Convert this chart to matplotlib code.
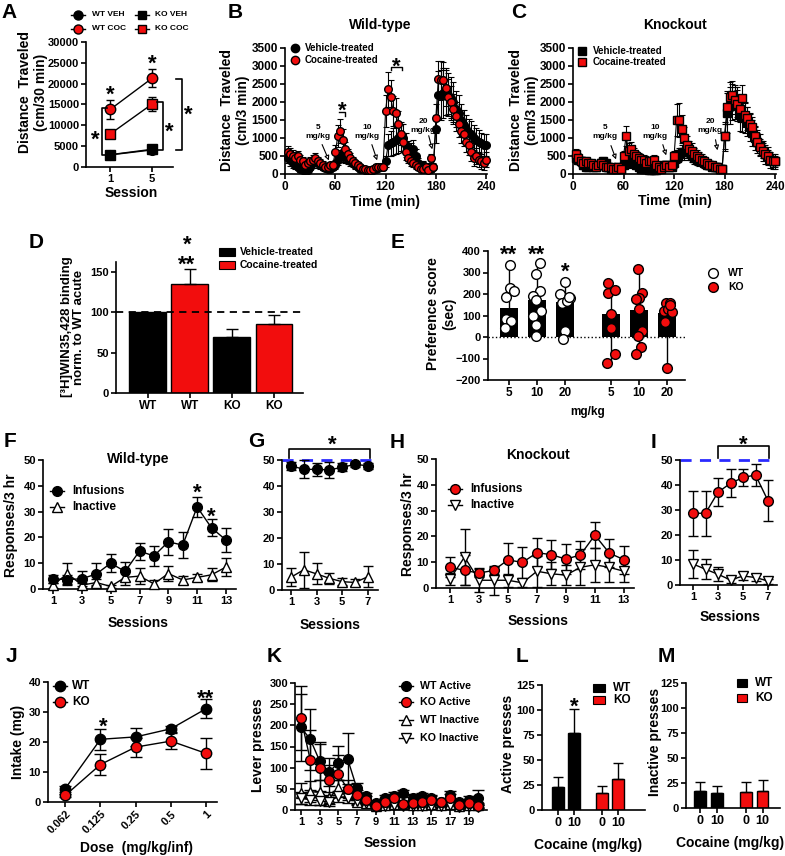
import numpy as np
import matplotlib
matplotlib.use('Agg')
import matplotlib.pyplot as plt
from matplotlib.lines import Line2D
from matplotlib.patches import Rectangle, FancyArrowPatch

# ======================= DATA =======================
# A
a_session = [1, 5]
a_wt_veh = [2900, 4100]; a_wt_veh_err = [300, 400]
a_ko_veh = [2950, 4250]; a_ko_veh_err = [300, 400]
a_wt_coc = [13800, 21300]; a_wt_coc_err = [2200, 2100]
a_ko_coc = [7900, 15100]; a_ko_coc_err = [600, 1750]

# B / C  (3-min bins)
bc_time = list(range(3, 241, 3))
b_veh = [450, 380, 300, 250, 200, 150, 120, 100, 120, 200, 300, 350, 300, 250, 200, 180, 150, 150, 200,
         250, 400, 500, 520, 480, 420, 350, 300, 250, 200, 150, 150, 120, 100, 100, 120, 150, 180, 200, 200,
         350, 800, 850, 900, 950, 1000, 1050, 1000, 800, 650, 600, 700, 500, 300, 200, 250, 150, 200, 150, 200,
         1250, 2200, 2200, 2250, 2300, 2200, 2100, 2000, 1800, 1700, 1500, 1350, 1250, 1150, 1100, 1000, 950, 900, 850, 800, 800]
b_veh_err = [150, 150, 130, 120, 100, 100, 90, 80, 90, 100, 120, 130, 120, 110, 100, 90, 80, 80, 90,
             100, 150, 180, 180, 170, 150, 130, 110, 100, 90, 80, 80, 70, 60, 60, 70, 80, 90, 90, 90,
             150, 300, 350, 380, 400, 420, 400, 380, 330, 280, 250, 250, 200, 150, 120, 120, 100, 100, 100, 100,
             400, 650, 700, 700, 650, 600, 600, 550, 500, 500, 450, 420, 400, 380, 360, 350, 330, 320, 300, 300, 300]
b_coc = [600, 550, 500, 450, 500, 400, 350, 250, 300, 350, 400, 450, 350, 300, 250, 200, 200, 250, 250,
         600, 1050, 1200, 950, 700, 550, 450, 350, 300, 250, 200, 150, 150, 100, 100, 150, 200, 200, 200, 200,
         1750, 2350, 2150, 1750, 1700, 1400, 1100, 900, 600, 450, 350, 300, 250, 200, 150, 150, 200, 100, 450, 200,
         1550, 2650, 2600, 2600, 2400, 2150, 2000, 1800, 1600, 1400, 1200, 1100, 900, 800, 600, 450, 500, 400, 350, 300, 400]
b_coc_err = [180, 170, 160, 150, 150, 140, 130, 110, 110, 120, 130, 140, 130, 120, 100, 90, 80, 80, 90,
             200, 300, 330, 300, 200, 150, 130, 110, 100, 90, 80, 70, 70, 60, 60, 70, 80, 80, 80, 80,
             450, 480, 450, 420, 400, 350, 300, 250, 200, 150, 120, 110, 100, 90, 80, 80, 80, 70, 100, 80,
             400, 500, 550, 520, 500, 480, 450, 420, 400, 380, 350, 330, 300, 280, 250, 230, 220, 200, 200, 200, 200]
c_veh = [450, 400, 350, 250, 200, 200, 250, 200, 200, 250, 300, 350, 300, 200, 150, 150, 150, 200, 150,
         250, 350, 400, 300, 300, 250, 200, 150, 150, 150, 100, 100, 100, 100, 150, 200, 250, 250, 200, 200,
         300, 450, 550, 600, 600, 650, 600, 500, 450, 400, 350, 350, 300, 250, 250, 200, 200, 200, 150, 150,
         1050, 1700, 1900, 2000, 2000, 1950, 1650, 1600, 1550, 1450, 1300, 1150, 1000, 900, 800, 650, 550, 500, 400, 350, 350]
c_veh_err = [150, 130, 120, 100, 90, 90, 90, 90, 90, 100, 110, 120, 110, 90, 80, 80, 80, 80, 80,
             100, 120, 140, 120, 110, 100, 90, 80, 80, 80, 70, 70, 70, 70, 80, 90, 100, 100, 90, 90,
             120, 150, 180, 200, 200, 210, 200, 180, 160, 150, 140, 130, 120, 110, 100, 100, 90, 90, 90, 90,
             400, 550, 520, 500, 480, 470, 450, 430, 420, 400, 380, 360, 340, 320, 300, 280, 260, 240, 220, 200, 200]
c_coc = [550, 450, 350, 300, 350, 300, 300, 250, 200, 250, 300, 250, 200, 200, 200, 150, 150, 200, 150,
         500, 1050, 650, 700, 550, 500, 450, 400, 400, 300, 350, 350, 400, 250, 200, 150, 200, 250, 200, 250,
         500, 1500, 1500, 1250, 1000, 800, 700, 650, 550, 500, 450, 400, 350, 300, 250, 250, 200, 200, 150, 150,
         1050, 1850, 2150, 2200, 2050, 1950, 1800, 2100, 1650, 1550, 1400, 1300, 1050, 900, 750, 650, 550, 500, 400, 350, 350]
c_coc_err = [150, 130, 120, 110, 110, 100, 100, 90, 90, 90, 100, 90, 80, 80, 80, 70, 70, 80, 70,
             150, 280, 200, 200, 160, 150, 140, 130, 120, 110, 110, 110, 120, 90, 80, 70, 80, 90, 80, 90,
             150, 450, 480, 400, 300, 250, 220, 200, 180, 170, 160, 150, 130, 120, 110, 100, 90, 90, 80, 80,
             350, 450, 400, 380, 380, 370, 360, 380, 340, 320, 300, 280, 260, 240, 220, 200, 180, 160, 150, 150, 150]

# D
d_labels = ['WT', 'WT', 'KO', 'KO']
d_values = [100, 135, 69, 85]
d_err = [0, 18, 10, 11]
d_is_coc = [False, True, False, True]

# E
e_labels = ['5', '10', '20', '5', '10', '20']
e_bar = [133, 170, 165, 105, 125, 112]
e_points = [[334, 187, 226, 216, 82, 74, 40],
            [345, 294, 213, 190, 170, 120, 97, 56, 5],
            [257, 201, 182, 159, 167, 185, 28, -11],
            [252, 206, 217, 108, 40, -80, -119],
            [314, 206, 182, 175, 128, 28, 5, -46, -77],
            [159, 159, 121, 128, 116, 71, -142, 150]]
e_is_ko = [False, False, False, True, True, True]

# F (WT acquisition)
f_sess = list(range(1, 14))
f_inf = [4, 3.6, 4, 5.8, 10, 6.8, 14.7, 12.8, 18.3, 17, 31.8, 23.7, 19]
f_inf_err = [1.5, 2, 3, 4.3, 3.6, 3.8, 3.3, 3.7, 5, 5, 3.8, 3.3, 4.5]
f_inact = [1.5, 6, 1.5, 2.5, 1, 4.5, 5, 2, 6, 3.5, 4.5, 5.5, 8.5]
f_inact_err = [1, 4, 1, 1.5, 0.5, 3, 3, 1.5, 3, 1.5, 1.5, 2.5, 3.5]

# G (WT FR)
g_sess = list(range(1, 8))
g_inf = [47.8, 46.4, 46.4, 46.2, 47.2, 48.3, 47.8]
g_inf_err = [1.5, 3.5, 2.5, 3, 1.5, 1, 1.2]
g_inact = [4.9, 7.8, 6.2, 4.5, 3.2, 2.9, 5.1]
g_inact_err = [3.4, 7, 4, 2, 1.4, 1.5, 4]

# H (KO acquisition)
h_sess = list(range(1, 14))
h_inf = [8.1, 6.8, 5.8, 6.8, 10.9, 9.9, 13.7, 12.9, 11.2, 12.8, 20.5, 13.5, 11]
h_inf_err = [3.8, 5.8, 1.5, 1.5, 6.4, 6, 5.7, 5.7, 5.8, 5.5, 5.1, 5.3, 5.4]
h_inact = [3.5, 12, 3, 3, 3, 2, 6.5, 5.5, 5, 8, 9, 8, 6.5]
h_inact_err = [2.5, 11, 4.7, 5.7, 2.5, 1.5, 6, 4.5, 4, 7, 6.5, 5.5, 4]

# I (KO FR)
i_sess = list(range(1, 8))
i_inf = [28.7, 28.7, 37.1, 40.7, 43, 44, 33.7]
i_inf_err = [9, 9, 5.5, 5.7, 3.4, 4.5, 8.1]
i_inact = [8.4, 6.3, 4.3, 2, 3.6, 3, 1.6]
i_inact_err = [5.6, 4, 2.8, 1, 1.5, 1.5, 1]

# J
j_dose = ['0.062', '0.125', '0.25', '0.5', '1']
j_wt = [4.5, 20.9, 21.7, 24.4, 31.1]
j_wt_err = [1, 3.5, 3, 1, 3.2]
j_ko = [2.2, 12.5, 18.3, 20.3, 16.2]
j_ko_err = [0.5, 3.6, 3.2, 2.6, 5.3]

# K
k_sess = list(range(1, 21))
k_wt_act = [195, 167, 116, 89, 112, 121, 51, 32, 16, 28, 32, 39, 29, 32, 28, 20, 36, 20, 24, 29]
k_wt_act_err = [80, 72, 45, 33, 40, 60, 12, 8, 5, 8, 10, 8, 8, 8, 8, 6, 8, 6, 8, 18]
k_ko_act = [217, 118, 100, 71, 84, 50, 36, 24, 10, 20, 28, 13, 16, 20, 24, 18, 29, 12, 16, 9]
k_ko_act_err = [76, 70, 55, 35, 45, 20, 12, 8, 5, 8, 10, 5, 8, 8, 8, 6, 8, 5, 6, 5]
k_wt_inact = [39, 43, 42, 28, 51, 39, 20, 17, 10, 12, 15, 15, 12, 12, 13, 12, 15, 10, 12, 12]
k_wt_inact_err = [25, 25, 30, 15, 20, 15, 8, 6, 5, 5, 5, 5, 5, 5, 5, 5, 5, 5, 5, 5]
k_ko_inact = [28, 24, 21, 20, 32, 29, 21, 16, 8, 10, 12, 10, 9, 10, 10, 9, 11, 8, 9, 8]
k_ko_inact_err = [15, 12, 10, 10, 12, 12, 8, 5, 4, 4, 4, 4, 4, 4, 4, 4, 4, 4, 4, 4]

# L / M
lm_cocaine = ['0', '10', '0', '10']
l_active = [22.7, 76.7, 16.7, 31]
l_active_err = [10.7, 24, 7.7, 15.7]
m_inactive = [17.3, 15, 16, 16.7]
m_inactive_err = [8.7, 6.7, 9.7, 11]
lm_is_ko = [False, False, True, True]

# ======================= STYLE =======================
plt.rcParams['font.family'] = ['Liberation Sans', 'DejaVu Sans']
plt.rcParams['font.weight'] = 'bold'
plt.rcParams['axes.labelweight'] = 'bold'
plt.rcParams['axes.linewidth'] = 1.2

RED = '#f20d0d'
BLUE = '#2a2aff'
W, H = 785, 856
fig = plt.figure(figsize=(W / 100, H / 100), dpi=100)


def make_ax(x0, yt, x1, yb, tsize=8):
    ax = fig.add_axes([x0 / W, 1 - yb / H, (x1 - x0) / W, (yb - yt) / H])
    for s in ('top', 'right'):
        ax.spines[s].set_visible(False)
    ax.patch.set_alpha(0)
    ax.tick_params(direction='out', length=3.5, width=1.2, labelsize=tsize, pad=1.5)
    return ax


def T(x, y, s, **kw):
    kw.setdefault('fontweight', 'bold')
    fig.text(x / W, 1 - y / H, s, **kw)


def Lpx(xs, ys, **kw):
    kw.setdefault('color', 'black')
    kw.setdefault('lw', 1.2)
    fig.add_artist(Line2D([x / W for x in xs], [1 - y / H for y in ys], transform=fig.transFigure, **kw))


def star(x, y, s='*', size=16, ls=1.1):
    # (x, y) = pixel centre of the (last line) asterisk ink
    em = size * 100 / 72
    T(x, y + 0.58 * em, s, ha='center', va='baseline', fontsize=size, linespacing=ls,
      multialignment='center')


def letter(x, y, s):
    T(x, y, s, ha='center', va='baseline', fontsize=15)


def ylab(x, y, s, size=10, ls=1.15):
    T(x, y, s, rotation=90, ha='center', va='center', multialignment='center', fontsize=size, linespacing=ls)


def xlab(x, y, s, size=10):
    T(x, y, s, ha='center', va='center', fontsize=size)


def leg_marker(x, y, marker, fc, ms, line=False, llen=7):
    if line:
        Lpx([x - llen, x + llen], [y, y], lw=1)
    fig.add_artist(Line2D([x / W], [1 - y / H], transform=fig.transFigure, marker=marker, ms=ms,
                          mfc=fc, mec='black', mew=1, ls='none'))


def leg_patch(x0, y0, x1, y1, fc):
    fig.add_artist(Rectangle((x0 / W, 1 - y1 / H), (x1 - x0) / W, (y1 - y0) / H,
                             transform=fig.transFigure, fc=fc, ec='black', lw=0.8))


def eb(ax, x, y, err, up_only=False, cap=3, lw=1.0, z=2):
    err = np.asarray(err, dtype=float)
    yerr = [np.zeros_like(err), err] if up_only else err
    c = ax.errorbar(x, y, yerr=yerr, fmt='none', ecolor='black', elinewidth=lw, capsize=cap,
                    capthick=lw, zorder=z)
    for ch in c.get_children():
        ch.set_clip_on(False)


def pts(ax, x, y, marker, fc, ms, line=True, z=3, lw=1.0):
    ax.plot(x, y, color='black', lw=lw if line else 0, marker=marker, ms=ms, mfc=fc,
            mec='black', mew=1.0, zorder=z, clip_on=False)


# ======================= A =======================
ax = make_ax(86, 42, 173, 167)
eb(ax, a_session, a_wt_veh, a_wt_veh_err)
pts(ax, a_session, a_wt_veh, 'o', 'black', 7)
eb(ax, a_session, a_ko_veh, a_ko_veh_err)
pts(ax, a_session, a_ko_veh, 's', 'black', 6.5)
eb(ax, a_session, a_wt_coc, a_wt_coc_err)
pts(ax, a_session, a_wt_coc, 'o', RED, 7.5)
eb(ax, a_session, a_ko_coc, a_ko_coc_err)
pts(ax, a_session, a_ko_coc, 's', RED, 6.5)
ax.set_xlim(-1.3, 7.0); ax.set_ylim(0, 30000)
ax.set_xticks(a_session); ax.set_yticks(range(0, 30001, 5000))
letter(9, 18, 'A')
ylab(33, 92, 'Distance  Traveled\n(cm/30 min)')
xlab(131, 193, 'Session')
leg_marker(78, 15, 'o', 'black', 6.5, line=True); T(92, 15, 'WT VEH', va='center', fontsize=6)
leg_marker(142, 15, 's', 'black', 6, line=True); T(155, 15, 'KO VEH', va='center', fontsize=6)
leg_marker(78, 29, 'o', RED, 6.5, line=True); T(92, 29, 'WT COC', va='center', fontsize=6)
leg_marker(142, 29, 's', RED, 6, line=True); T(155, 29, 'KO COC', va='center', fontsize=6)
star(110, 88); star(152, 57)
Lpx([107, 102, 102, 107], [108, 108, 155, 155]); star(95, 133)
Lpx([157, 163, 163, 157], [102, 102, 150, 150]); star(169, 125)
Lpx([176, 182, 182, 176], [79, 79, 150, 150]); star(188, 108)

# ======================= B / C =======================
def timecourse(ax, veh, veh_err, coc, coc_err, marker):
    eb(ax, bc_time, veh, veh_err, cap=2, lw=0.8)
    eb(ax, bc_time, coc, coc_err, cap=2, lw=0.8)
    pts(ax, bc_time, veh, marker, 'black', 5.5, lw=0.8, z=3)
    pts(ax, bc_time, coc, marker, RED, 5.5, lw=0.8, z=4)
    ax.set_xlim(0, 241); ax.set_ylim(0, 3500)
    ax.set_xticks(range(0, 241, 60)); ax.set_yticks(range(0, 3501, 500))


axB = make_ax(285, 48, 487, 174, tsize=8.5)
timecourse(axB, b_veh, b_veh_err, b_coc, b_coc_err, 'o')
axC = make_ax(573, 48, 776, 174, tsize=8.5)
timecourse(axC, c_veh, c_veh_err, c_coc, c_coc_err, 's')
letter(235, 18, 'B'); letter(519, 18, 'C')
T(380, 25, 'Wild-type', ha='center', va='center', fontsize=10)
T(675, 25, 'Knockout', ha='center', va='center', fontsize=10)
ylab(235, 110, 'Distance  Traveled\n(cm/3 min)')
ylab(524, 110, 'Distance  Traveled\n(cm/3 min)')
xlab(385, 202, 'Time (min)'); xlab(675, 201, 'Time  (min)')
leg_marker(295, 48, 'o', 'black', 6); T(305, 48, 'Vehicle-treated', va='center', fontsize=7)
leg_marker(295, 60, 'o', RED, 6); T(305, 60, 'Cocaine-treated', va='center', fontsize=7)
leg_marker(582, 51, 's', 'black', 6); T(593, 51, 'Vehicle-treated', va='center', fontsize=7)
leg_marker(582, 62, 's', RED, 6); T(593, 62, 'Cocaine-treated', va='center', fontsize=7)


def dose_arrow(tx, ty, s, a0, a1):
    T(tx, ty, s, ha='center', va='center', fontsize=6, linespacing=1.3)
    fig.add_artist(FancyArrowPatch((a0[0] / W, 1 - a0[1] / H), (a1[0] / W, 1 - a1[1] / H),
                                   transform=fig.transFigure, arrowstyle='-|>', mutation_scale=7,
                                   lw=0.8, fc='white', ec='black'))


dose_arrow(318, 132, '5\nmg/kg', (321, 142), (330, 163))
dose_arrow(367, 132, '10\nmg/kg', (371, 142), (378, 163))
dose_arrow(423, 126, '20\nmg/kg', (428, 133), (433, 152))
dose_arrow(605, 132, '5\nmg/kg', (610, 143), (617, 162))
dose_arrow(655, 132, '10\nmg/kg', (662, 142), (667, 158))
dose_arrow(710, 126, '20\nmg/kg', (715, 137), (718, 153))
star(342, 104); Lpx([339, 345, 345], [112, 112, 116], lw=1)
star(396, 60); Lpx([391, 391, 402, 402], [70, 67, 67, 70], lw=1)

# ======================= D =======================
ax = make_ax(116, 262, 303, 393)
dx = np.arange(len(d_values))
ax.bar(dx, d_values, width=0.88, color=[RED if c else 'black' for c in d_is_coc],
       edgecolor='black', lw=1, zorder=2)
eb(ax, dx[1:], d_values[1:], d_err[1:], up_only=True, cap=4)
ax.axhline(100, ls=(0, (4, 3)), color='black', lw=1.3, zorder=3)
ax.set_xlim(-0.76, 3.69); ax.set_ylim(0, 162)
ax.set_xticks(dx); ax.set_xticklabels(d_labels, fontsize=8.5); ax.set_yticks([0, 50, 100, 150])
letter(36, 248, 'D')
ylab(73, 327, '[³H]WIN35,428 binding\nnorm. to WT acute', size=9.5, ls=1.1)
star(187, 258, '*\n**', ls=0.95)
leg_patch(219, 248, 235, 256, 'black'); T(240, 252, 'Vehicle-treated', va='center', fontsize=7.5)
leg_patch(219, 261, 235, 269, RED); T(240, 265, 'Cocaine-treated', va='center', fontsize=7.5)

# ======================= E =======================
ax = make_ax(488, 251, 685, 380)
ex = [0, 1, 2, 3.65, 4.65, 5.65]
e_offsets = [[0.02, -0.12, 0.02, 0.18, -0.1, 0.08, -0.15],
             [0.12, -0.02, 0.12, -0.14, -0.02, 0.15, -0.14, -0.02, -0.02],
             [0.0, -0.18, 0.18, -0.12, 0.06, 0.14, 0.0, -0.06],
             [-0.12, -0.12, 0.15, 0.0, 0.0, 0.15, -0.14],
             [-0.05, 0.1, 0.0, -0.12, 0.0, 0.1, -0.05, 0.07, -0.1],
             [-0.05, 0.1, -0.1, 0.02, 0.18, -0.08, 0.0, 0.12]]
for xi, vals in zip(ex, e_points):
    ax.plot([xi, xi], [min(vals), max(vals)], color='black', lw=1, zorder=1)
ax.bar(ex, e_bar, width=0.67, color='black', zorder=2)
ax.axhline(0, ls=':', color='black', lw=1, zorder=2.5)
for xi, vals, offs, ko in zip(ex, e_points, e_offsets, e_is_ko):
    ax.plot([xi + o for o in offs], vals, 'o', ms=7, mfc=RED if ko else 'white', mec='black',
            mew=1, zorder=3, clip_on=False)
ax.set_xlim(-0.75, 6.29); ax.set_ylim(-200, 400)
ax.set_xticks(ex); ax.set_xticklabels(e_labels, fontsize=8.5); ax.set_yticks(range(-200, 401, 100))
letter(398, 248, 'E')
ylab(441, 314, 'Preference score\n(sec)', ls=1.25)
xlab(588, 412, 'mg/kg', size=8.5)
star(509, 248, '**'); star(537, 248, '**'); star(565, 265)
leg_marker(713, 273, 'o', 'white', 7); T(728, 273, 'WT', va='center', fontsize=7.5)
leg_marker(713, 287, 'o', RED, 7); T(728, 287, 'KO', va='center', fontsize=7.5)

# ======================= F / G / H / I =======================
def sa_axis(ax, sess, inf, inf_err, inact, inact_err, infc, inact_marker, xt, xlim):
    eb(ax, sess, inact, inact_err, cap=3.5)
    pts(ax, sess, inact, inact_marker, 'white', 7)
    eb(ax, sess, inf, inf_err, cap=3.5)
    pts(ax, sess, inf, 'o', infc, 7, z=4)
    ax.set_xlim(*xlim); ax.set_ylim(0, 50)
    ax.set_xticks(xt); ax.set_yticks(range(0, 51, 10))


axF = make_ax(43, 460, 236, 589)
sa_axis(axF, f_sess, f_inf, f_inf_err, f_inact, f_inact_err, 'black', '^', range(1, 14, 2), (0.3, 13.7))
axG = make_ax(282, 460, 378, 590)
sa_axis(axG, g_sess, g_inf, g_inf_err, g_inact, g_inact_err, 'black', '^', range(1, 8, 2), (0.3, 7.8))
axG.axhline(50, color=BLUE, lw=2, ls=(0, (4, 3)), zorder=1, clip_on=False)
axH = make_ax(436, 459, 634, 588)
sa_axis(axH, h_sess, h_inf, h_inf_err, h_inact, h_inact_err, RED, 'v', range(1, 14, 2), (0.03, 13.7))
axI = make_ax(680, 460, 777, 585)
sa_axis(axI, i_sess, i_inf, i_inf_err, i_inact, i_inact_err, RED, 'v', range(1, 8, 2), (-0.04, 7.72))
axI.axhline(50, color=BLUE, lw=2, ls=(0, (4, 3)), zorder=1, clip_on=False)

letter(10, 447, 'F'); letter(256, 447, 'G'); letter(397, 448, 'H'); letter(653, 448, 'I')
T(138, 459, 'Wild-type', ha='center', va='center', fontsize=10)
T(538, 455, 'Knockout', ha='center', va='center', fontsize=10)
ylab(11, 525, 'Responses/3 hr'); ylab(408, 524, 'Responses/3 hr')
xlab(138, 623, 'Sessions'); xlab(330, 625, 'Sessions'); xlab(538, 621, 'Sessions'); xlab(730, 617, 'Sessions')
leg_marker(57, 491, 'o', 'black', 7, line=True); T(72, 491, 'Infusions', va='center', fontsize=8.5)
leg_marker(57, 507, '^', 'white', 7, line=True); T(72, 507, 'Inactive', va='center', fontsize=8.5)
leg_marker(455, 489, 'o', RED, 7, line=True); T(470, 489, 'Infusions', va='center', fontsize=8.5)
leg_marker(455, 505, 'v', 'white', 7, line=True); T(470, 505, 'Inactive', va='center', fontsize=8.5)
star(197, 486); star(211, 510)
Lpx([289, 289, 370, 370], [458, 449, 449, 458]); star(332, 438)
Lpx([718, 718, 769, 769], [458, 446, 446, 458]); star(743, 438)

# ======================= J =======================
ax = make_ax(48, 682, 217, 802)
jx = np.arange(len(j_dose))
eb(ax, jx, j_wt, j_wt_err, cap=4)
pts(ax, jx, j_wt, 'o', 'black', 7.5)
eb(ax, jx, j_ko, j_ko_err, cap=4)
pts(ax, jx, j_ko, 'o', RED, 7.5, z=4)
ax.set_xlim(-0.49, 4.31); ax.set_ylim(0, 40)
ax.set_xticks(jx); ax.set_xticklabels(j_dose, rotation=45, ha='right', rotation_mode='anchor', fontsize=8)
ax.set_yticks(range(0, 41, 10))
letter(11, 662, 'J')
ylab(18, 742, 'Intake (mg)')
xlab(137, 848, 'Dose  (mg/kg/inf)')
leg_marker(60, 686, 'o', 'black', 7.5, line=True); T(72, 686, 'WT', va='center', fontsize=8.5)
leg_marker(60, 702, 'o', RED, 7.5, line=True); T(72, 702, 'KO', va='center', fontsize=8.5)
star(103, 720); star(206, 692, '**')

# ======================= K =======================
ax = make_ax(295, 683, 487, 810)
eb(ax, k_sess, k_wt_inact, k_wt_inact_err, cap=4)
eb(ax, k_sess, k_ko_inact, k_ko_inact_err, cap=4)
eb(ax, k_sess, k_wt_act, k_wt_act_err, cap=4)
eb(ax, k_sess, k_ko_act, k_ko_act_err, cap=4)
pts(ax, k_sess, k_wt_inact, '^', 'white', 7)
pts(ax, k_sess, k_ko_inact, 'v', 'white', 7)
pts(ax, k_sess, k_wt_act, 'o', 'black', 7, z=4)
pts(ax, k_sess, k_ko_act, 'o', RED, 7, z=5)
ax.set_xlim(0.36, 20.96); ax.set_ylim(0, 300)
ax.set_xticks(range(1, 20, 2)); ax.set_yticks(range(0, 301, 50))
letter(274, 662, 'K')
ylab(258, 745, 'Lever presses')
xlab(390, 843, 'Session')
for yy, mk, fc, lab in [(686, 'o', 'black', 'WT Active'), (702, 'o', RED, 'KO Active'),
                        (720, '^', 'white', 'WT Inactive'), (738, 'v', 'white', 'KO Inactive')]:
    leg_marker(406, yy, mk, fc, 7, line=True)
    T(420, yy, lab, va='center', fontsize=7.7)

# ======================= L / M =======================
lmx = [0, 1, 2.75, 3.75]
lm_colors = [RED if k else 'black' for k in lm_is_ko]
axL = make_ax(542, 685, 645, 810)
axL.bar(lmx, l_active, width=0.7, color=lm_colors, edgecolor='black', lw=1, zorder=2)
eb(axL, lmx, l_active, l_active_err, up_only=True, cap=3.5)
axL.set_xlim(-1.0, 5.44); axL.set_ylim(0, 125)
axL.set_xticks(lmx); axL.set_xticklabels(lm_cocaine, fontsize=9); axL.set_yticks(range(0, 126, 25))
axM = make_ax(686, 683, 780, 808)
axM.bar(lmx, m_inactive, width=0.7, color=lm_colors, edgecolor='black', lw=1, zorder=2)
eb(axM, lmx, m_inactive, m_inactive_err, up_only=True, cap=3.5)
axM.set_xlim(-0.85, 4.8); axM.set_ylim(0, 125)
axM.set_xticks(lmx); axM.set_xticklabels(lm_cocaine, fontsize=9); axM.set_yticks(range(0, 126, 25))
letter(522, 662, 'L'); letter(666, 662, 'M')
ylab(508, 744, 'Active presses'); ylab(655, 742, 'Inactive presses')
xlab(588, 845, 'Cocaine (mg/kg)'); xlab(730, 843, 'Cocaine (mg/kg)')
star(574, 700)
leg_patch(593, 684, 605, 692, 'black'); T(613, 688, 'WT', va='center', fontsize=8.5)
leg_patch(593, 696, 605, 704, RED); T(613, 700, 'KO', va='center', fontsize=8.5)
leg_patch(737, 679, 747, 687, 'black'); T(755, 683, 'WT', va='center', fontsize=8.5)
leg_patch(737, 694, 747, 702, RED); T(755, 698, 'KO', va='center', fontsize=8.5)

fig.savefig('out.png', dpi=100)
